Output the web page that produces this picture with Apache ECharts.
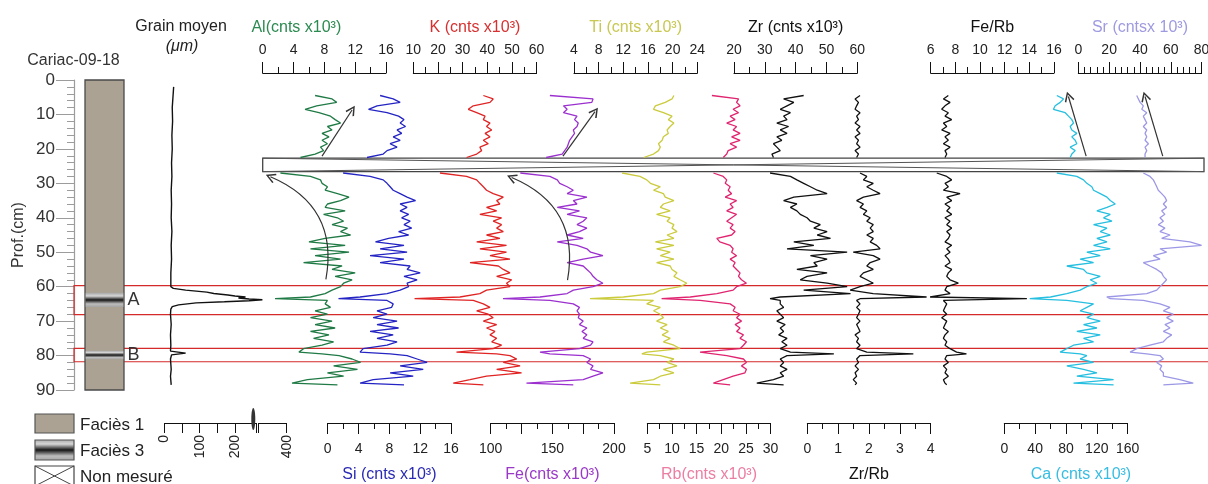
<!DOCTYPE html>
<html><head><meta charset="utf-8">
<script src="https://cdn.jsdelivr.net/npm/echarts@6/dist/echarts.min.js"></script>
<style>html,body{margin:0;padding:0;background:#fff}#c{width:1208px;height:484px}</style>
</head><body><div id="c"></div>
<script>
// ===================== DATA =====================
const depthUpper = [4.5,5.5,6.5,7.5,8.5,9.5,10.5,11.5,12.5,13.5,14.5,15.5,16.5,17.5,18.5,19.5,20.5,21.5,22.5];
const depthLower = [27,28,29,30,31,32,33,34,35,36,37,38,39,40,41,42,43,44,45,46,47,48,49,50,51,52,53,54,55,56,57,58,59,60,61,62,63,63.5,64,65,66,67,68,69,70,71,72,73,74,75,76,77,78,79,79.5,80,81,82,83,84,85,86,87,88,88.5];

const alUpper = [6.8,9.0,9.6,7.0,5.5,7.3,8.8,9.4,10.1,8.4,9.0,7.7,8.6,7.7,8.4,7.5,7.9,6.8,4.9];
const alLower = [2.3,6.2,7.5,7.7,8.4,8.1,9.7,11.2,10.1,8.4, 8.1,10.7,7.9,9.7,10.5,9.0,11.0,10.1,11.4,8.1, 6.0,10.7,6.2,11.2,6.8,10.1,5.3,10.3,9.0,12.0, 9.4,11.6,10.5,10.1,9.0,8.1,6.2,1.6,8.4,8.1, 8.8,6.8,8.4,6.2,9.0,6.8,9.4,6.2,8.6,6.6, 9.2,7.7,5.3,4.7,7.7,9.9,11.6,12.7,9.2,12.3, 8.4,10.5,5.8,3.8,9.7];

const siUpper = [6.8,8.5,9.4,6.4,5.3,7.7,9.2,9.9,9.4,10.1,9.0,9.6,8.5,9.4,8.1,9.0,7.7,7.2,5.1];
const siLower = [2.0,5.5,7.2,7.7,8.1,8.5,9.4,10.3,11.4,9.4, 10.3,9.4,10.5,9.6,10.7,9.9,10.9,9.2,10.5,7.9, 6.2,9.9,6.8,10.3,5.5,9.9,6.8,10.7,10.3,12.0, 9.9,11.6,10.3,10.5,9.4,7.7,4.2,1.4,7.7,8.5, 8.3,6.4,7.7,5.9,9.0,6.4,9.2,5.5,8.5,6.4, 9.0,7.7,4.6,4.2,8.1,10.3,11.6,12.9,9.4,12.4, 8.1,11.1,5.9,4.2,9.9];

const kUpper = [38.4,42.4,41.1,34.3,32.3,35.7,39.1,38.4,41.1,39.7,41.8,39.1,41.1,38.4,40.4,37.0,37.7,35.7,31.6];
const kLower = [20.8,31.6,35.7,37.0,38.4,39.7,42.4,46.5,43.8,45.1, 39.7,43.8,37.0,45.8,42.4,45.8,43.8,46.5,39.7,45.1, 35.7,47.8,37.0,47.8,41.1,49.2,33.0,44.5,46.5,49.2, 43.8,49.9,47.8,49.2,39.7,37.0,28.9,10.5,34.3,38.4, 41.1,35.7,40.4,42.4,38.4,43.8,39.7,43.1,41.1,43.8, 41.8,45.8,42.4,27.5,43.8,49.2,51.9,46.5,53.3,43.8, 53.9,39.7,33.0,26.2,38.4];

const feUpper = [148,183,182,159,162,159,170,168,171,170,167,168,166,164,163,162,160,158,145];
const feLower = [124,148,154,156,162,167,162,178,167,170, 154,172,162,178,175,170,178,172,162,175, 154,170,178,181,191,175,162,175,178,181, 183,186,191,183,167,162,140,110,148,167, 172,170,172,171,175,172,178,174,178,175, 183,181,172,140,148,175,181,178,183,181, 191,183,175,129,167];

const tiUpper = [20.2,19.9,18.8,17.2,16.9,18.5,19.9,19.3,20.2,19.6,19.1,19.3,18.5,18.3,17.7,18.0,17.7,16.9,15.3];
const tiLower = [11.8,14.7,15.8,16.4,18.0,16.9,18.5,18.8,20.2,18.5, 18.0,19.6,17.4,19.6,19.1,20.2,19.9,20.7,19.1,20.2, 17.2,20.2,17.4,19.6,18.0,20.2,17.4,19.6,19.9,20.7, 20.2,21.2,22.3,21.2,18.0,16.9,12.0,6.6,16.9,15.8, 18.0,16.9,18.0,18.5,17.4,19.1,18.0,19.3,18.3,19.6, 18.5,20.2,21.2,15.8,15.0,18.0,20.2,19.1,20.7,18.5, 20.2,18.0,16.9,13.1,18.0];

const rbUpper = [18.1,23.5,23.1,23.8,22.4,23.5,21.8,22.8,21.1,23.1,22.4,23.8,22.1,23.8,21.8,23.1,21.4,21.1,20.4];
const rbLower = [18.4,20.4,21.1,20.8,21.8,21.4,22.1,20.8,23.1,21.8, 22.4,21.1,23.1,22.1,21.1,22.4,21.8,22.8,22.1,19.1, 19.7,21.8,22.4,22.1,23.1,21.8,22.8,22.4,23.1,23.8, 23.5,24.1,25.1,23.1,22.4,19.1,13.7,7.9,15.7,21.8, 22.8,22.4,23.8,23.1,24.1,22.8,23.8,23.1,24.5,23.8, 25.1,24.5,23.8,15.7,15.3,21.1,24.5,25.1,24.1,25.1, 24.8,22.4,20.4,18.4,21.8];

const zrUpper = [42.6,36.1,39.4,37.2,35.0,38.3,36.1,37.2,33.9,37.7,35.0,37.2,33.9,35.5,32.8,33.9,35.0,32.3,32.8];
const zrLower = [31.7,38.3,40.4,42.6,44.8,47.0,50.2,39.4,36.1,40.4, 38.3,40.4,41.5,43.7,44.8,48.0,45.9,50.2,47.0,51.3, 39.4,45.9,37.2,56.7,44.8,50.2,45.9,47.0,40.4,50.2, 43.7,41.5,50.2,56.7,42.6,57.8,35.0,31.7,35.0,35.0, 36.1,33.9,35.0,36.1,33.9,36.6,35.0,36.1,34.5,37.2, 35.5,37.2,35.0,38.3,52.4,37.2,35.0,36.1,35.0,37.2, 35.0,36.1,32.8,27.4,36.1];

const zrRbUpper = [1.71,1.55,1.66,1.60,1.55,1.71,1.60,1.66,1.55,1.71,1.60,1.71,1.55,1.66,1.60,1.71,1.55,1.66,1.60];
const zrRbLower = [1.71,1.93,1.82,2.14,1.93,2.14,2.36,1.82,1.60,1.82, 1.71,1.93,1.82,2.04,1.93,2.14,2.04,2.14,1.93,2.14, 2.04,2.25,2.36,1.49,2.14,2.36,2.04,1.93,2.14,1.82, 1.71,1.93,2.14,1.71,1.39,2.14,3.87,1.71,1.60,1.71, 1.60,1.71,1.66,1.60,1.71,1.60,1.66,1.71,1.55,1.66, 1.60,1.71,1.60,1.93,3.44,1.71,1.60,1.66,1.55,1.66, 1.55,1.60,1.49,1.60,1.55];

const feRbUpper = [7.43,7.03,7.57,7.16,6.89,7.43,7.16,7.70,7.03,7.30,6.89,7.57,7.16,7.43,7.03,7.57,7.16,7.30,7.16];
const feRbLower = [6.49,7.30,7.70,7.16,7.43,7.03,8.38,7.30,7.70,7.16, 7.57,7.30,7.70,7.16,7.57,7.30,7.70,7.30,7.57,7.43, 7.16,7.70,7.30,7.57,7.16,7.43,7.57,7.16,7.70,7.43, 7.30,7.57,8.24,7.30,7.16,7.57,5.95,13.8,7.03,7.30, 7.16,7.03,7.30,6.89,7.30,7.16,7.03,7.43,7.16,7.03, 7.30,7.16,7.57,8.10,8.90,7.30,7.16,7.43,7.03,7.30, 7.16,7.43,7.03,7.16,7.30];

const caUpper = [68.1,76.8,72.5,66.0,63.8,79.0,83.3,87.6,89.8,85.5,87.6,94.1,87.6,92.0,94.1,85.5,92.0,87.6,85.5];
const caLower = [68.1,94.1,102.8,107.1,113.6,115.8,124.5,133.2,137.5,144.0, 133.2,120.1,137.5,128.8,139.7,115.8,133.2,124.5,137.5,120.1, 133.2,115.8,137.5,107.1,124.5,98.5,115.8,81.1,102.8,107.1, 124.5,111.5,120.1,107.1,98.5,81.1,60,33,81.1,115.8, 107.1,98.5,115.8,107.1,124.5,102.8,120.1,94.1,124.5,102.8, 115.8,89.8,81.1,72.5,98.5,107.1,98.5,115.8,81.1,102.8, 120.1,94.1,141.8,89.8,141.8];

const srUpper = [37.9,39.0,40.1,42.2,41.2,44.4,42.2,43.3,44.4,42.2,44.4,43.3,44.4,43.3,45.5,43.3,44.4,43.3,43.3];
const srLower = [42.2,46.5,48.7,49.8,50.9,51.9,54.1,56.2,57.3,55.2, 57.3,54.1,56.2,53.0,55.2,51.9,56.2,53.0,59.5,54.1, 72.4,80.0,53.0,57.3,48.7,53.0,42.2,46.5,50.9,54.1, 55.2,57.3,55.2,53.0,50.9,44.4,18.5,20.7,42.2,53.0, 59.5,55.2,61.6,57.3,61.6,56.2,59.5,55.2,60.6,57.3, 55.2,46.5,37.9,33.6,44.4,53.0,55.2,50.9,54.1,53.0, 55.2,55.2,65.9,74.6,55.2];

const grainDepth = [2,5,8,12,16,20,24,28,32,36,40,44,48,52,56,59,60,60.5,61,61.6,62,62.4,62.7,63,63.3,63.6,63.8,64.1,64.4,64.7,65.3,65.8,66.5,68,71,74,77,78.7,79.3,79.8,81,84,86,88.5];
const grainSize  = [26,24,22,23,21,22,20,21,19,20,19,21,19,20,18,18,18,25,60,120,140,180,200,230,210,240,331,240,170,90,40,22,18,17,19,17,18,17,60,20,17,19,17,19];

// lithology: top depth, base depth, facies type
const faciesTop  = [0, 61.8, 78.6];
const faciesBase = [90, 65.9, 81.1];
const faciesType = [1, 3, 3];

// event boxes
const boxTop   = [59.7, 77.9];
const boxBase  = [68.1, 81.8];
const boxLabel = ['A', 'B'];
// not measured interval
const gapTop = 22.7, gapBase = 26.6;

// trend arrows: [x1, depth1, x2, depth2] in each element's units
const arrowAl = [[7.7,22.1,11.6,8.7]];
const arrowFe = [[158.6,22.1,184.6,9.2]];
const arrowCa = [[106.2,22.1,83.2,4.8]];
const arrowSr = [[54.8,22.1,43.3,4.8]];
const curvedAl = [[8.2,57.9,1.0,28.1]];
const curvedFe = [[162.3,58.1,117,28.3]];

// ===================== STYLE / LAYOUT =====================
const FONT = "'Liberation Sans', Arial, Helvetica, sans-serif";
const PLOT_TOP = 80, PLOT_H = 310;
const FACIES1 = '#aba293';
const CHEVRON = 'path://M0,10 L5,0 L10,10 L8.7,11 L5,3.2 L1.3,11 Z';
const CURVE = -0.4;

const specs = [
 {up: alUpper, low: alLower, left:262.7, min:0, max:16, interval:4, minor:2, pos:'top', color:'#207a45', title:'Al(cnts x10³)', titleColor:'#2b8a50', pad:[0,56,0,0], arrows: arrowAl, curved: curvedAl},
 {up: siUpper, low: siLower, left:327.7, min:0, max:16, interval:4, minor:2, pos:'bottom', color:'#2424c4', title:'Si (cnts x10³)', titleColor:'#2a2ab4'},
 {up: kUpper, low: kLower, left:413.3, min:10, max:60, interval:10, minor:2, pos:'top', color:'#e02424', title:'K (cnts x10³)', titleColor:'#d83030'},
 {up: feUpper, low: feLower, left:490.7, min:100, max:200, interval:25, minor:2, pos:'bottom', color:'#9b30cf', title:'Fe(cnts x10³)', titleColor:'#9a38c8', labels:[100,150,200], arrows: arrowFe, curved: curvedFe},
 {up: tiUpper, low: tiLower, left:574, min:4, max:24, interval:4, minor:2, pos:'top', color:'#cbcb3e', title:'Ti (cnts x10³)', titleColor:'#c8c852'},
 {up: rbUpper, low: rbLower, left:647.3, min:5, max:30, interval:5, minor:2, pos:'bottom', color:'#e0246f', title:'Rb(cnts x10³)', titleColor:'#ec7ea4'},
 {up: zrUpper, low: zrLower, left:734, min:20, max:60, interval:10, minor:2, pos:'top', color:'#111', title:'Zr (cnts x10³)', titleColor:'#111'},
 {up: zrRbUpper, low: zrRbLower, left:807.3, min:0, max:4, interval:1, minor:2, pos:'bottom', color:'#111', title:'Zr/Rb', titleColor:'#111'},
 {up: feRbUpper, low: feRbLower, left:930.7, min:6, max:16, interval:2, minor:2, pos:'top', color:'#111', title:'Fe/Rb', titleColor:'#111'},
 {up: caUpper, low: caLower, left:1004.3, min:0, max:160, interval:40, minor:2, pos:'bottom', color:'#26bfe0', title:'Ca (cnts x10³)', titleColor:'#38bde2', pad:[0,0,0,30], arrows: arrowCa},
 {up: srUpper, low: srLower, left:1078.3, min:0, max:80, interval:20, minor:5, pos:'top', color:'#9c98e6', title:'Sr (cntsx 10³)', titleColor:'#9e9ae0', arrows: arrowSr}
];

const grids = [], xAxes = [], yAxes = [], series = [];
function addGrid(left, width){
  grids.push({left: left, width: width, top: PLOT_TOP, height: PLOT_H, containLabel:false, outerBoundsMode:'none'});
  return grids.length - 1;
}
function depthY(g){
  yAxes.push({gridIndex:g, type:'value', min:0, max:90, inverse:true, show:false});
  return yAxes.length - 1;
}
function scaleAxis(g, s){
  const top = s.pos === 'top';
  const ax = {
    gridIndex:g, type:'value', min:s.min, max:s.max, interval:s.interval, position:s.pos, offset: top ? 7 : 33,
    axisLine:{show:true, onZero:false, lineStyle:{color:'#111', width:1}},
    axisTick:{show:true, inside:false, length:11, lineStyle:{color:'#111', width:1}},
    minorTick:{show:true, splitNumber:s.minor, length:6, lineStyle:{color:'#111', width:1}},
    splitLine:{show:false}, minorSplitLine:{show:false},
    axisLabel:{show:true, margin: top ? 16 : 19, fontSize:14, color:'#222', fontFamily:FONT, showMinLabel:true, showMaxLabel:true,
      formatter: s.labels ? function(v){ return s.labels.indexOf(v) >= 0 ? String(v) : ''; } : '{value}'},
    name: s.title, nameLocation:'middle', nameGap: top ? 37 : 44,
    nameTextStyle:{color:s.titleColor, fontSize:16, fontFamily:FONT, padding: s.pad || 0}
  };
  xAxes.push(ax);
  return xAxes.length - 1;
}
function pairs(up, low){
  const d = [];
  up.forEach(function(v,i){ d.push([v, depthUpper[i]]); });
  d.push(['-','-']);
  low.forEach(function(v,i){ d.push([v, depthLower[i]]); });
  return d;
}
function arrowMark(list){
  return {silent:true, symbol:['none', CHEVRON], symbolSize:[10,10], animation:false,
    lineStyle:{color:'#333', width:1.2, type:'solid'}, itemStyle:{color:'#333'}, label:{show:false},
    emphasis:{disabled:true},
    data: list.map(function(a){ return [{coord:[a[0],a[1]]}, {coord:[a[2],a[3]]}]; })};
}

// ---- grid 0 : depth scale + lithology
const g0 = addGrid(85, 39);
xAxes.push({gridIndex:g0, type:'value', min:0, max:1, show:false});
yAxes.push({gridIndex:g0, type:'value', min:0, max:90, inverse:true, interval:10, position:'left', offset:11,
  axisLine:{show:true, onZero:false, lineStyle:{color:'#9c9c9c', width:1.2}},
  axisTick:{show:true, length:18, lineStyle:{color:'#9c9c9c', width:1}},
  minorTick:{show:true, splitNumber:5, length:7, lineStyle:{color:'#9c9c9c', width:1}},
  splitLine:{show:false}, minorSplitLine:{show:false},
  axisLabel:{margin:19, fontSize:17, color:'#333', fontFamily:FONT, showMinLabel:true, showMaxLabel:true},
  name:'Prof.(cm)', nameLocation:'middle', nameRotate:90, nameGap:47,
  nameTextStyle:{fontSize:16, color:'#333', fontFamily:FONT}});
function faciesFill(){
  return new echarts.graphic.LinearGradient(0,0,0,1,[
    {offset:0, color:'#a8a8a8'},{offset:0.22, color:'#d6d6d6'},{offset:0.5, color:'#151515'},
    {offset:0.78, color:'#bdbdbd'},{offset:1, color:'#a4a4a4'}]);
}
series.push({type:'custom', xAxisIndex:0, yAxisIndex:0, silent:true, z:2,
  data: faciesTop.map(function(t,i){ return [t, faciesBase[i], faciesType[i]]; }),
  encode:{y:[0,1]},
  renderItem: function(params, api){
    const t = api.value(0), b = api.value(1), ty = api.value(2);
    const p1 = api.coord([0, t]), p2 = api.coord([1, b]);
    const ins = ty === 1 ? 0 : 0.7;
    return {type:'rect', shape:{x:p1[0]+ins, y:p1[1], width:p2[0]-p1[0]-2*ins, height:p2[1]-p1[1]},
      style:{fill: ty === 1 ? FACIES1 : faciesFill(), stroke: ty === 1 ? '#4a4a4a' : null, lineWidth:1.3}};
  }});

// ---- grid 1 : grain size (broken axis)
const g1 = addGrid(164.5, 122.2);
xAxes.push({gridIndex:g1, type:'value', min:0, max:400, interval:50, position:'bottom', offset:33,
  breaks:[{start:260, end:320, gap:'2%'}], breakArea:{show:false, itemStyle:{opacity:0}},
  axisLine:{show:true, onZero:false, lineStyle:{color:'#111', width:1}},
  axisTick:{show:true, length:10, lineStyle:{color:'#111'}},
  splitLine:{show:false},
  axisLabel:{rotate:90, margin:12, fontSize:14, color:'#222', fontFamily:FONT, showMinLabel:true, showMaxLabel:true,
    formatter:function(v){ return [0,100,200,400].indexOf(v) >= 0 ? String(v) : ''; }}});
const gy1 = depthY(g1);
series.push({type:'line', xAxisIndex:1, yAxisIndex:gy1, silent:true, showSymbol:false, symbol:'none', z:3,
  data: grainDepth.map(function(d,i){ return [grainSize[i], d]; }),
  lineStyle:{color:'#111', width:1.4}});

// ---- element curves
specs.forEach(function(s){
  const g = addGrid(s.left, 123.3);
  const xi = scaleAxis(g, s);
  const yi = depthY(g);
  const ser = {type:'line', xAxisIndex:xi, yAxisIndex:yi, silent:true, showSymbol:false, symbol:'none', z:3,
    data: pairs(s.up, s.low), lineStyle:{color:s.color, width:1.3}, itemStyle:{color:s.color}};
  if (s.arrows) ser.markLine = arrowMark(s.arrows);
  series.push(ser);
  if (s.curved) {
    series.push({type:'lines', coordinateSystem:'cartesian2d', xAxisIndex:xi, yAxisIndex:yi, silent:true, z:4,
      symbol:['none', CHEVRON], symbolSize:10,
      lineStyle:{color:'#333', width:1.2, type:'solid', curveness:CURVE, opacity:1},
      data: s.curved.map(function(a){ return {coords:[[a[0],a[1]],[a[2],a[3]]]}; })});
  }
});

// ---- overlay grid : event boxes A / B
const gb = addGrid(74, 1140);
xAxes.push({gridIndex:gb, type:'value', min:0, max:1, show:false});
const gby = depthY(gb);
series.push({type:'line', xAxisIndex:xAxes.length-1, yAxisIndex:gby, data:[], silent:true, z:4,
  markArea:{silent:true, itemStyle:{color:'rgba(0,0,0,0)', borderColor:'#d42a2a', borderWidth:1.2},
    label:{show:true, position:[54,'50%'], align:'left', verticalAlign:'middle', fontSize:18, color:'#333', fontFamily:FONT},
    emphasis:{disabled:true},
    data: boxTop.map(function(t,i){ return [{name:boxLabel[i], xAxis:0, yAxis:t},{xAxis:1, yAxis:boxBase[i]}]; })}});

// ---- overlay grid : not measured interval
const gg = addGrid(262.7, 941.3);
xAxes.push({gridIndex:gg, type:'value', min:0, max:1, show:false});
const ggy = depthY(gg);
series.push({type:'line', xAxisIndex:xAxes.length-1, yAxisIndex:ggy, data:[], silent:true, z:5,
  markArea:{silent:true, itemStyle:{color:'#fff', borderColor:'#444', borderWidth:1.3}, emphasis:{disabled:true},
    data:[[{xAxis:0, yAxis:gapTop},{xAxis:1, yAxis:gapBase}]]},
  markLine:{silent:true, symbol:'none', animation:false, label:{show:false}, emphasis:{disabled:true},
    lineStyle:{color:'#555', width:1, type:'solid'},
    data:[[{coord:[0,gapTop]},{coord:[1,gapBase]}],[{coord:[0,gapBase]},{coord:[1,gapTop]}]]}});

// ---- texts & legend
function txt(x, y, s, opts){
  return Object.assign({type:'text', x:x, y:y, silent:true, z:10,
    style:Object.assign({text:s, fill:'#222', font:'16px ' + FONT, align:'center', verticalAlign:'middle'}, opts || {})});
}
const graphics = [
  txt(73.5, 61, 'Cariac-09-18', {fill:'#333'}),
  txt(181, 27, 'Grain moyen', {fill:'#222'}),
  txt(182, 47, '(μm)', {fill:'#222', font:'italic 16px ' + FONT}),
  {type:'rect', silent:true, shape:{x:35, y:414, width:39, height:19}, style:{fill:FACIES1, stroke:'#555', lineWidth:1.2}},
  {type:'rect', silent:true, shape:{x:35, y:440, width:39, height:20}, style:{fill:faciesFill(), stroke:'#555', lineWidth:1.2}},
  {type:'rect', silent:true, shape:{x:35, y:466, width:39, height:20}, style:{fill:'#fff', stroke:'#444', lineWidth:1.2}},
  {type:'line', silent:true, shape:{x1:35, y1:466, x2:74, y2:486}, style:{stroke:'#444', lineWidth:1}},
  {type:'line', silent:true, shape:{x1:35, y1:486, x2:74, y2:466}, style:{stroke:'#444', lineWidth:1}},
  txt(80, 425, 'Faciès 1', {align:'left', font:'17px ' + FONT}),
  txt(80, 451, 'Faciès 3', {align:'left', font:'17px ' + FONT}),
  txt(80, 477, 'Non mesuré', {align:'left', font:'17px ' + FONT})
];

const chart = echarts.init(document.getElementById('c'), null, {renderer:'canvas', width:1208, height:484});
chart.setOption({animation:false, backgroundColor:'#fff', grid:grids, xAxis:xAxes, yAxis:yAxes, series:series, graphic:graphics});

// break mark on grain axis
let bx = 251;
try { const p = chart.convertToPixel({xAxisIndex:1}, 290); if (isFinite(p)) bx = p; } catch(e) {}
graphics.push({type:'ellipse', silent:true, z:10, shape:{cx:bx - 4, cy:419, rx:2, ry:11}, style:{fill:'#333'}});
chart.setOption({graphic:graphics});
</script></body></html>
